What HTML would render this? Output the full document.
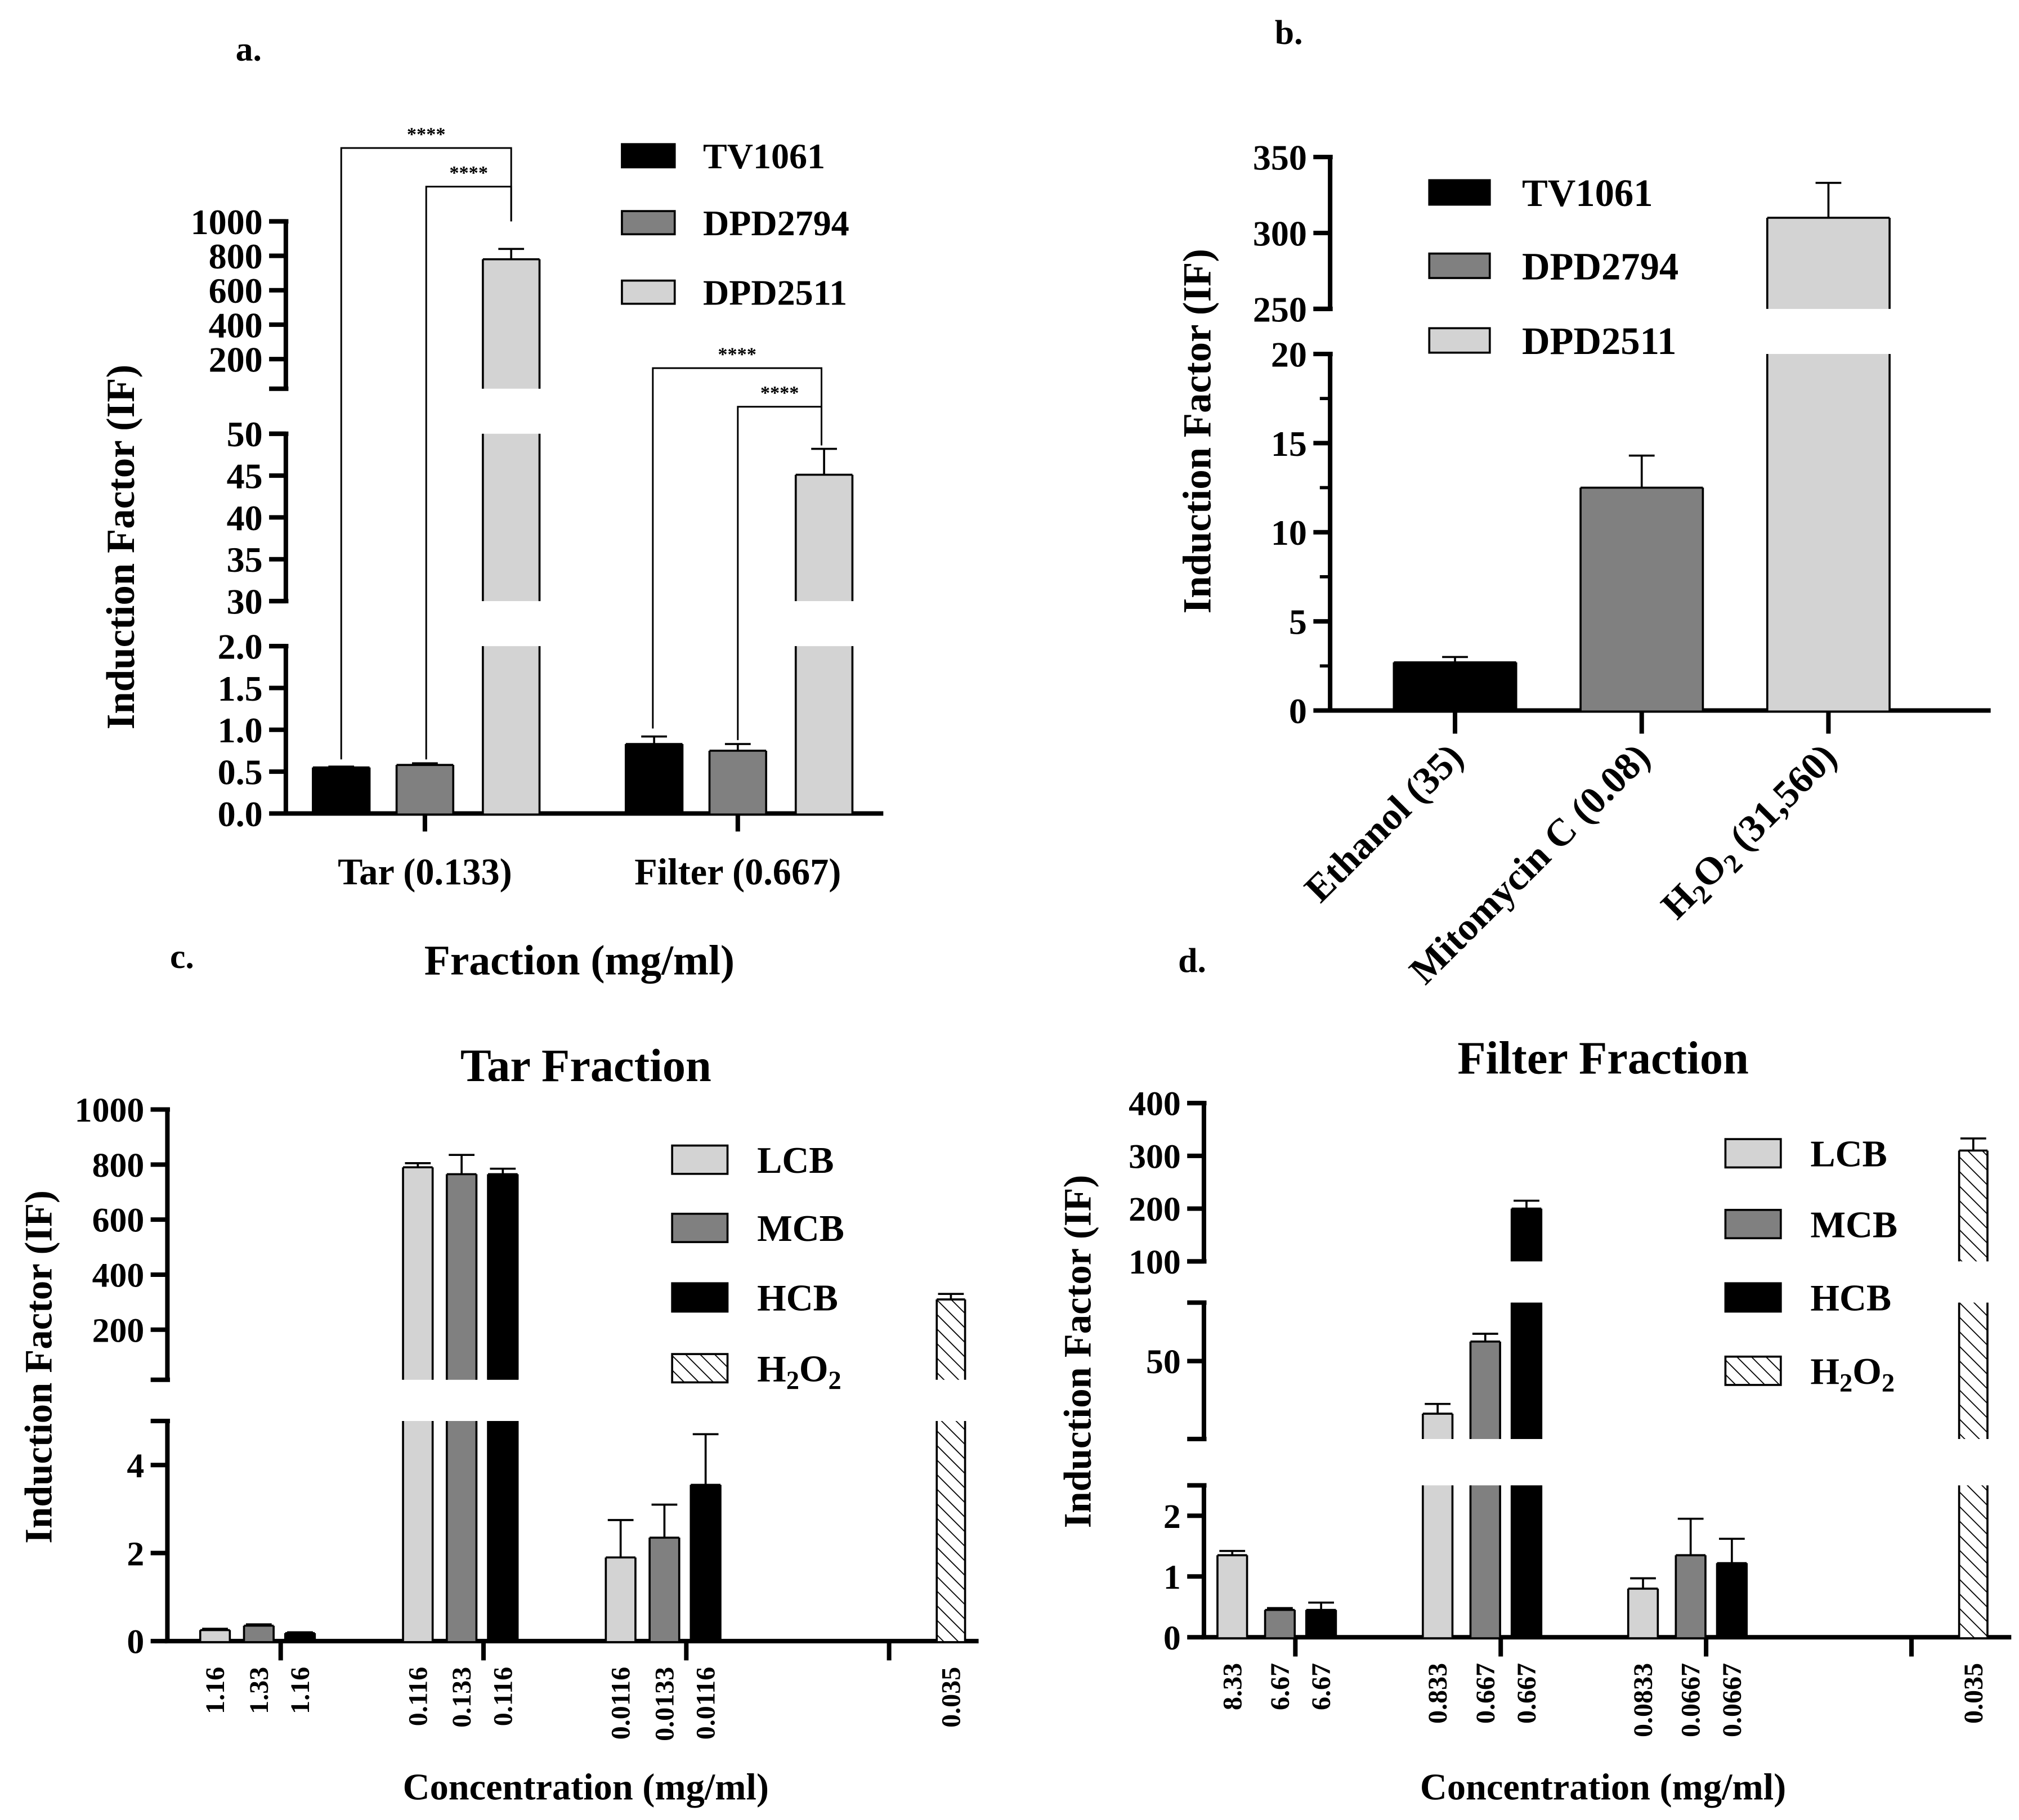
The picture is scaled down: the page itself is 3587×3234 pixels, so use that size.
<!DOCTYPE html>
<html><head><meta charset="utf-8">
<style>
html,body{margin:0;padding:0;background:#fff;}
svg{display:block;}
text{font-family:"Liberation Serif",serif;font-weight:bold;fill:#000;}
</style></head>
<body>
<svg id="fig" width="3587" height="3234" viewBox="0 0 1568 1414" preserveAspectRatio="none" xmlns="http://www.w3.org/2000/svg">
<defs>
<pattern id="hatch" patternUnits="userSpaceOnUse" width="8" height="8" patternTransform="rotate(-45)">
<rect width="8" height="8" fill="#fff"/>
<line x1="0" y1="0" x2="0" y2="8" stroke="#000" stroke-width="1.6"/>
</pattern>
</defs>
<rect width="1568" height="1414" fill="#fff"/>
<text x="183" y="47" font-size="27">a.</text>
<text x="990" y="34" font-size="27">b.</text>
<text x="132" y="752" font-size="27">c.</text>
<text x="915" y="755" font-size="27">d.</text>
<g id="pa"></g>
<g id="pb"></g>
<g id="pc"></g>
<g id="pd"></g>
</svg>
<script>
// ---------- Panel a data ----------
const aGroups = ['Tar (0.133)', 'Filter (0.667)'];
const aSeries = ['TV1061', 'DPD2794', 'DPD2511'];
const aTV1061 = [0.55, 0.83];
const aTV1061Err = [0.56, 0.92];
const aDPD2794 = [0.58, 0.75];
const aDPD2794Err = [0.60, 0.83];
const aDPD2511 = [780, 45.1];
const aDPD2511Err = [840, 48.2];
const aTicksTop = [200, 400, 600, 800, 1000];
const aTicksMid = [30, 35, 40, 45, 50];
const aTicksLow = [0, 0.5, 1.0, 1.5, 2.0];
// ---------- Panel b data ----------
const bCategories = ['Ethanol (35)', 'Mitomycin C (0.08)', 'H2O2 (31,560)'];
const bValues = [2.7, 12.5, 310];
const bErr = [3.0, 14.3, 333];
const bTicksTop = [250, 300, 350];
const bTicksLow = [0, 5, 10, 15, 20];
// ---------- Panel c data ----------
const cLCB = [0.25, 790, 1.9];
const cLCBErr = [0.28, 805, 2.75];
const cMCB = [0.35, 765, 2.35];
const cMCBErr = [0.38, 835, 3.1];
const cHCB = [0.18, 765, 3.55];
const cHCBErr = [0.20, 785, 4.7];
const cH2O2 = [310];
const cH2O2Err = [330];
const cLabels = [['1.16','1.33','1.16'],['0.116','0.133','0.116'],['0.0116','0.0133','0.0116']];
const cH2O2Label = ['0.035'];
const cTicksTop = [200, 400, 600, 800, 1000];
const cTicksLow = [0, 2, 4];
// ---------- Panel d data ----------
const dLCB = [1.35, 23, 0.8];
const dLCBErr = [1.42, 28, 0.97];
const dMCB = [0.45, 60, 1.35];
const dMCBErr = [0.48, 64, 1.95];
const dHCB = [0.45, 200, 1.22];
const dHCBErr = [0.57, 215, 1.62];
const dH2O2 = [310];
const dH2O2Err = [333];
const dLabels = [['8.33','6.67','6.67'],['0.833','0.667','0.667'],['0.0833','0.0667','0.0667']];
const dH2O2Label = ['0.035'];
const dTicksTop = [100, 200, 300, 400];
const dTicksMid = [50];
const dTicksLow = [0, 1, 2];

const NS = 'http://www.w3.org/2000/svg';
const BLACK = '#000', DARK = '#808080', LIGHT = '#d3d3d3';
function mk(parent, tag, attrs) {
  const el = document.createElementNS(NS, tag);
  for (const k in attrs) el.setAttribute(k, attrs[k]);
  parent.appendChild(el);
  return el;
}
function ymap(seg, v) { return seg.yLo + (v - seg.lo) * (seg.yHi - seg.yLo) / (seg.hi - seg.lo); }

function drawYAxis(g, x, segs, tickSets, fmt, fs, name) {
  segs.forEach((s, i) => {
    const ln = mk(g, 'line', {x1: x, y1: s.yHi, x2: x, y2: s.yLo, stroke: '#000', 'stroke-width': 3.5});
    
    
    [s.yHi, s.yLo].forEach(yy => {
      if (i === segs.length - 1 && yy === s.yLo) return;
      const cap = mk(g, 'line', {x1: x - 13, y1: yy, x2: x + 2, y2: yy, stroke: '#000', 'stroke-width': 3.5});
      
      
    });
    tickSets[i].forEach(t => {
      const yy = ymap(s, t);
      const tk = mk(g, 'line', {x1: x - 13, y1: yy, x2: x, y2: yy, stroke: '#000', 'stroke-width': 3.5});
      
      
      const tx = mk(g, 'text', {x: x - 18, y: yy + fs * 0.35, 'text-anchor': 'end', 'font-size': fs});
      tx.textContent = fmt(t);
      
      
    });
  });
}

function drawBar(g, segs, cx, w, v, e, fill, name) {
  const x0 = cx - w / 2, x1 = cx + w / 2;
  segs.forEach((s, i) => {
    const isBottom = i === segs.length - 1;
    if (!isBottom && v <= segs[i + 1].hi) return;
    const top = Math.min(v, s.hi);
    const yT = ymap(s, Math.max(top, s.lo)), yB = s.yLo;
    const r = mk(g, 'rect', {x: x0, y: yT, width: w, height: Math.max(0, yB - yT), fill: fill});
    
    
    mk(g, 'line', {x1: x0, y1: yT, x2: x0, y2: yB, stroke: '#000', 'stroke-width': 1.6});
    mk(g, 'line', {x1: x1, y1: yT, x2: x1, y2: yB, stroke: '#000', 'stroke-width': 1.6});
    if (v <= s.hi) {
      mk(g, 'line', {x1: x0, y1: yT, x2: x1, y2: yT, stroke: '#000', 'stroke-width': 1.6});
      const ye = ymap(s, Math.min(e, s.hi));
      const eb = mk(g, 'path', {d: `M${cx},${yT} V${ye} M${cx - 10},${ye} H${cx + 10}`, stroke: '#000', 'stroke-width': 1.6, fill: 'none'});
      
      
    }
  });
}

function legend(g, x, ys, labels, fills, fs, sw, sh, tx, name) {
  labels.forEach((lab, i) => {
    const r = mk(g, 'rect', {x: x, y: ys[i], width: sw, height: sh, fill: fills[i], stroke: '#000', 'stroke-width': 1.6});
    
    
    const t = mk(g, 'text', {x: tx, y: ys[i] + sh / 2 + fs * 0.35, 'font-size': fs});
    
    
    if (lab === 'H2O2') {
      t.textContent = 'H';
      const s1 = mk(t, 'tspan', {dy: 6, 'font-size': fs * 0.7}); s1.textContent = '2';
      const s2 = mk(t, 'tspan', {dy: -6}); s2.textContent = 'O';
      const s3 = mk(t, 'tspan', {dy: 6, 'font-size': fs * 0.7}); s3.textContent = '2';
    } else t.textContent = lab;
  });
}

function ytitle(g, x, y, fs, name) {
  const t = mk(g, 'text', {x: x, y: y, 'font-size': fs, 'text-anchor': 'middle', transform: `rotate(-90 ${x} ${y})`});
  t.textContent = 'Induction Factor (IF)';
  
  
}

// ================= Panel a =================
(function () {
  const g = document.getElementById('pa');
  const segs = [
    {lo: 28, hi: 1000, yLo: 302, yHi: 172},
    {lo: 30, hi: 50, yLo: 467, yHi: 337},
    {lo: 0, hi: 2, yLo: 632, yHi: 502}];
  drawYAxis(g, 222, segs, [aTicksTop, aTicksMid, aTicksLow], t => t, 28, 'a-y');
  const xa = mk(g, 'line', {x1: 220, y1: 632, x2: 686, y2: 632, stroke: '#000', 'stroke-width': 3.5});
   
  const centers = [330, 573];
  const fills = [BLACK, DARK, LIGHT];
  const vals = [aTV1061, aDPD2794, aDPD2511], errs = [aTV1061Err, aDPD2794Err, aDPD2511Err];
  const off = [-65, 0, 67];
  aGroups.forEach((grp, gi) => {
    const cx = centers[gi];
    const tk = mk(g, 'line', {x1: cx, y1: 632, x2: cx, y2: 646, stroke: '#000', 'stroke-width': 3.5});
     
    const t = mk(g, 'text', {x: cx, y: 687, 'text-anchor': 'middle', 'font-size': 29});
    t.textContent = grp;
     
    aSeries.forEach((s, si) => drawBar(g, segs, cx + off[si], 44, vals[si][gi], errs[si][gi], fills[si], 'a-bar-' + s.toLowerCase()));
  });
  function bracket(xl, yl, xr, yr, ytop, label) {
    const p = mk(g, 'path', {d: `M${xl},${yl} V${ytop} H${xr} V${yr}`, stroke: '#000', 'stroke-width': 1.3, fill: 'none'});
     
    const t = mk(g, 'text', {x: (xl + xr) / 2, y: ytop - 6, 'text-anchor': 'middle', 'font-size': 15});
    t.textContent = label;
     
  }
  bracket(265, 590, 397, 172, 115, '****');
  bracket(331, 590, 397, 172, 145, '****');
  bracket(507, 566, 638, 346, 286, '****');
  bracket(573, 575, 638, 346, 316, '****');
  legend(g, 483, [112, 164, 218], aSeries, fills, 28, 41, 18, 546, 'a-legend');
  ytitle(g, 104, 425, 31, 'a-y-axis-title');
  const xt = mk(g, 'text', {x: 450, y: 757, 'text-anchor': 'middle', 'font-size': 33});
  xt.textContent = 'Fraction (mg/ml)';
   
  g.querySelectorAll('text').forEach(t => {
    if (['0', '1', '2'].includes(t.textContent) && t.getAttribute('text-anchor') === 'end') t.textContent = Number(t.textContent).toFixed(1);
  });
})();

// ================= Panel b =================
(function () {
  const g = document.getElementById('pb');
  const segs = [
    {lo: 250, hi: 350, yLo: 240, yHi: 122},
    {lo: 0, hi: 20, yLo: 552, yHi: 275}];
  drawYAxis(g, 1033, segs, [bTicksTop, bTicksLow], t => t, 28, 'b-y');
  [2.5, 7.5, 12.5, 17.5].forEach(t => {
    const yy = ymap(segs[1], t);
    const m = mk(g, 'line', {x1: 1025, y1: yy, x2: 1033, y2: yy, stroke: '#000', 'stroke-width': 2.5});
     
  });
  const xa = mk(g, 'line', {x1: 1031, y1: 552, x2: 1546, y2: 552, stroke: '#000', 'stroke-width': 3.5});
   
  const centers = [1130, 1275, 1420];
  const fills = [BLACK, DARK, LIGHT];
  bCategories.forEach((c, i) => {
    const cx = centers[i];
    const tk = mk(g, 'line', {x1: cx, y1: 552, x2: cx, y2: 570, stroke: '#000', 'stroke-width': 3.5});
     
    drawBar(g, segs, cx, 95, bValues[i], bErr[i], fills[i], 'b-bar');
    const ax = cx + 8, ay = 590;
    const t = mk(g, 'text', {x: ax, y: ay, 'text-anchor': 'end', 'font-size': 30, transform: `rotate(-45 ${ax} ${ay})`});
     
    if (c.startsWith('H2O2')) {
      t.textContent = 'H';
      const s1 = mk(t, 'tspan', {dy: 6, 'font-size': 21}); s1.textContent = '2';
      const s2 = mk(t, 'tspan', {dy: -6}); s2.textContent = 'O';
      const s3 = mk(t, 'tspan', {dy: 6, 'font-size': 21}); s3.textContent = '2';
      const s4 = mk(t, 'tspan', {dy: -6}); s4.textContent = ' (31,560)';
    } else t.textContent = c;
  });
  legend(g, 1110, [140, 197, 255], ['TV1061', 'DPD2794', 'DPD2511'], fills, 30, 47, 19, 1182, 'b-legend');
  ytitle(g, 940, 335, 31, 'b-y-axis-title');
})();

// ================= Panel c & d =================
function grouped(gid, P) {
  const g = document.getElementById(gid);
  drawYAxis(g, P.ax, P.segs, P.ticks, t => t, 27, P.n + '-y');
  const xa = mk(g, 'line', {x1: P.ax - 2, y1: P.base, x2: P.xEnd, y2: P.base, stroke: '#000', 'stroke-width': 3.5});
   
  const xc = i => P.x0 + P.step * i;
  const fills = [LIGHT, DARK, BLACK];
  const names = ['lcb', 'mcb', 'hcb'];
  for (let i = 0; i < 4; i++) {
    const tk = mk(g, 'line', {x1: xc(i), y1: P.base, x2: xc(i), y2: P.base + 15, stroke: '#000', 'stroke-width': 3.5});
     
  }
  function vlabel(x, txt) {
    const yy = P.base + 20;
    const t = mk(g, 'text', {x: x + 7, y: yy, 'text-anchor': 'end', 'font-size': 21, transform: `rotate(-90 ${x + 7} ${yy})`});
    t.textContent = txt;
     
  }
  for (let gi = 0; gi < 3; gi++) {
    for (let s = 0; s < 3; s++) {
      const cx = xc(gi) + P.off[s];
      drawBar(g, P.segs, cx, 23, P.vals[s][gi], P.errs[s][gi], fills[s], P.n + '-bar-' + names[s]);
      vlabel(cx, P.labels[gi][s]);
    }
  }
  const hx = xc(3) + 48;
  drawBar(g, P.segs, hx, 22, P.h2o2[0], P.h2o2Err[0], 'url(#hatch)', P.n + '-bar-h2o2');
  vlabel(hx, P.h2o2Label[0]);
  legend(g, P.lx, P.ly, ['LCB', 'MCB', 'HCB', 'H2O2'], [LIGHT, DARK, BLACK, 'url(#hatch)'], 29, 43, 22, P.lx + 66, P.n + '-legend');
  ytitle(g, P.tx, P.ty, 30, P.n + '-y-axis-title');
  const ti = mk(g, 'text', {x: P.titleX, y: P.titleY, 'text-anchor': 'middle', 'font-size': 36});
  ti.textContent = P.title;
   
  const xt = mk(g, 'text', {x: P.titleX, y: 1398, 'text-anchor': 'middle', 'font-size': 29});
  xt.textContent = 'Concentration (mg/ml)';
   
}

grouped('pc', {
  n: 'c', ax: 130, base: 1275, xEnd: 760, x0: 218, step: 157.5, off: [-51, -17, 15],
  segs: [{lo: 18, hi: 1000, yLo: 1072, yHi: 862}, {lo: 0, hi: 5, yLo: 1275, yHi: 1104}],
  ticks: [cTicksTop, cTicksLow],
  vals: [cLCB, cMCB, cHCB], errs: [cLCBErr, cMCBErr, cHCBErr],
  h2o2: cH2O2, h2o2Err: cH2O2Err, labels: cLabels, h2o2Label: cH2O2Label,
  lx: 522, ly: [890, 943, 997, 1052], tx: 40, ty: 1062,
  title: 'Tar Fraction', titleX: 455, titleY: 840
});
grouped('pd', {
  n: 'd', ax: 935, base: 1272, xEnd: 1562, x0: 1006, step: 159.5, off: [-49, -12, 20],
  segs: [{lo: 100, hi: 400, yLo: 980, yHi: 857}, {lo: 10, hi: 80, yLo: 1118, yHi: 1012}, {lo: 0, hi: 2.5, yLo: 1272, yHi: 1154}],
  ticks: [dTicksTop, dTicksMid, dTicksLow],
  vals: [dLCB, dMCB, dHCB], errs: [dLCBErr, dMCBErr, dHCBErr],
  h2o2: dH2O2, h2o2Err: dH2O2Err, labels: dLabels, h2o2Label: dH2O2Label,
  lx: 1340, ly: [885, 940, 997, 1054], tx: 847, ty: 1050,
  title: 'Filter Fraction', titleX: 1245, titleY: 834
});
</script>
</body></html>
